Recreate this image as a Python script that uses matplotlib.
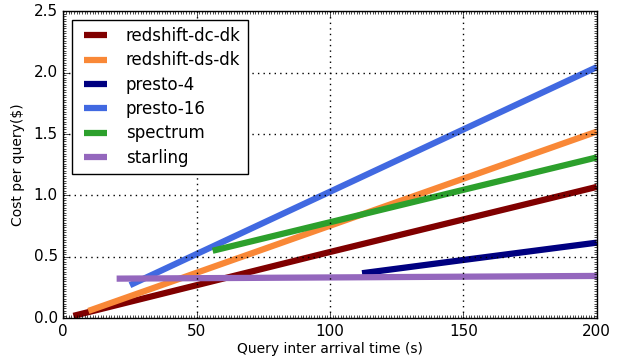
import matplotlib
matplotlib.use("Agg")
from matplotlib import pyplot as plt
from matplotlib.ticker import MultipleLocator

# start / end points of each series (query inter arrival time, cost per query)
redshift_dc_dk_x = [3.8, 100, 150, 200]
redshift_dc_dk_y = [0.02, 0.54, 0.805, 1.07]
redshift_ds_dk_x = [9.4, 200]
redshift_ds_dk_y = [0.06, 1.52]
presto_4_x = [112, 150, 200]
presto_4_y = [0.367, 0.475, 0.616]
presto_16_x = [25, 200]
presto_16_y = [0.27, 2.045]
spectrum_x = [56, 200]
spectrum_y = [0.55, 1.31]
starling_x = [20, 200]
starling_y = [0.323, 0.345]

series = [
    ("redshift-dc-dk", redshift_dc_dk_x, redshift_dc_dk_y, "#800000"),
    ("redshift-ds-dk", redshift_ds_dk_x, redshift_ds_dk_y, "#f98837"),
    ("presto-4", presto_4_x, presto_4_y, "#000080"),
    ("presto-16", presto_16_x, presto_16_y, "#4169e1"),
    ("spectrum", spectrum_x, spectrum_y, "#2ca02c"),
    ("starling", starling_x, starling_y, "#9467bd"),
]

plt.style.use("classic")
fig = plt.figure(figsize=(6.18, 3.6), dpi=100, facecolor="white")
ax = fig.add_axes([0.1024, 0.1158, 0.8633, 0.853])

for name, xs, ys, color in series:
    ax.plot(xs, ys, color=color, linewidth=4.5, label=name, solid_capstyle="butt")

ax.set_xlim(0, 200)
ax.set_ylim(0, 2.5)
ax.xaxis.set_major_locator(MultipleLocator(50))
ax.yaxis.set_major_locator(MultipleLocator(0.5))
ax.xaxis.set_minor_locator(MultipleLocator(1))
ax.yaxis.set_minor_locator(MultipleLocator(0.02))
ax.tick_params(which="major", labelsize=11, length=4)
ax.tick_params(which="minor", length=2)
ax.grid(True, which="major", color="k", linestyle=":", linewidth=1)

ax.set_xlabel("Query inter arrival time (s)", fontsize=10, labelpad=2)
ax.set_ylabel("Cost per query($)", fontsize=10, labelpad=6)

leg = ax.legend(loc="upper left", fontsize=12, handlelength=2.0,
                borderpad=0.45, labelspacing=0.38, fancybox=False)
leg.get_frame().set_linewidth(1)

fig.savefig("out.png", dpi=100, facecolor="white")
